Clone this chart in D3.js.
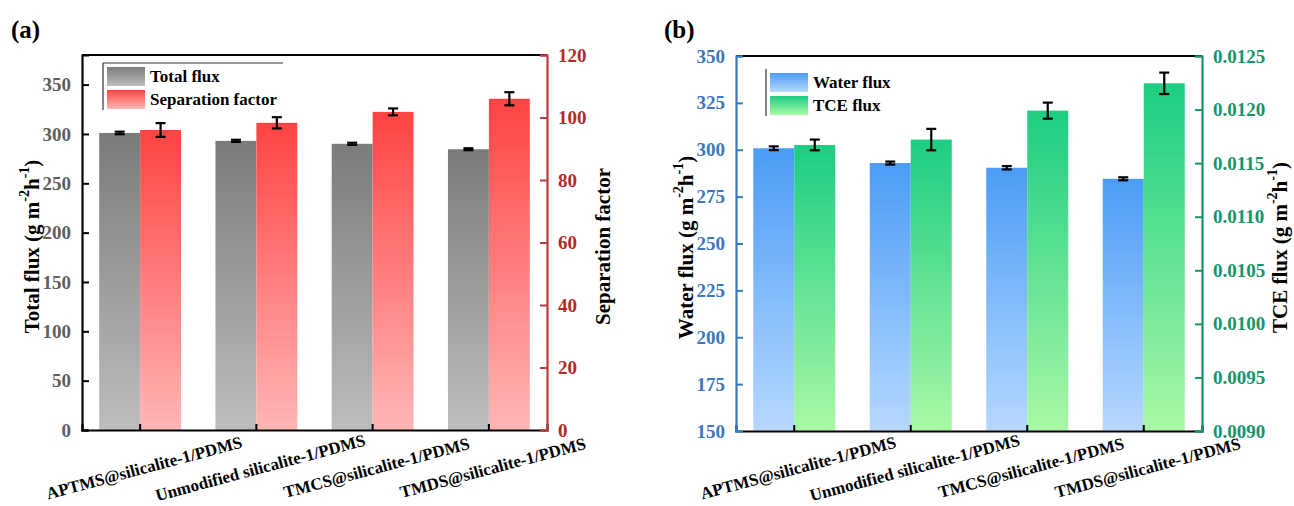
<!DOCTYPE html>
<html>
<head>
<meta charset="utf-8">
<script src="https://cdn.jsdelivr.net/npm/d3@7"></script>
<style>
  html, body { margin: 0; padding: 0; background: #fff; }
  svg { display: block; }
  text { font-family: "Liberation Serif", "Times New Roman", serif; font-weight: bold; }
</style>
</head>
<body>
<svg id="chart" width="1294" height="506"></svg>
<script>
// ---------- data ----------
const categories = [
  "APTMS@silicalite-1/PDMS",
  "Unmodified silicalite-1/PDMS",
  "TMCS@silicalite-1/PDMS",
  "TMDS@silicalite-1/PDMS"
];
const totalFlux = [301, 293, 290, 284.5];
const totalFluxErr = [1.3, 1.1, 1.1, 1.0];
const sepFactor = [96.0, 98.3, 101.8, 106.0];
const sepFactorErr = [2.2, 1.8, 1.1, 2.1];
const waterFlux = [300.8, 292.9, 290.4, 284.5];
const waterFluxErr = [1.0, 0.8, 0.9, 0.8];
const tceFlux = [0.01167, 0.01172, 0.01199, 0.012245];
const tceFluxErr = [0.00005, 0.0001, 0.000075, 0.0001];

const ticksTotal = [0, 50, 100, 150, 200, 250, 300, 350];
const ticksSep = [0, 20, 40, 60, 80, 100, 120];
const ticksWater = [150, 175, 200, 225, 250, 275, 300, 325, 350];
const ticksTce = [0.0090, 0.0095, 0.0100, 0.0105, 0.0110, 0.0115, 0.0120, 0.0125];

const svg = d3.select("#chart");
const defs = svg.append("defs");

function grad(id, top, bottom) {
  const g = defs.append("linearGradient").attr("id", id)
    .attr("x1", 0).attr("y1", 0).attr("x2", 0).attr("y2", 1);
  g.append("stop").attr("offset", "0%").attr("stop-color", top);
  g.append("stop").attr("offset", "100%").attr("stop-color", bottom);
}
grad("gGray", "#7b7b7b", "#bdbdbd");
grad("gRed", "#ff4343", "#ffb6b6");
grad("gBlue", "#4b9cf6", "#b6d8ff");
grad("gGreen", "#1ccd82", "#a9f8a6");

function panel(cfg) {
  const g = svg.append("g");
  const { x0, x1, yTop, yBot } = cfg;
  const x = d3.scaleBand().domain(categories).range([x0, x1]).padding(0);
  const yL = d3.scaleLinear().domain(cfg.leftDomain).range([yBot, yTop]);
  const yR = d3.scaleLinear().domain(cfg.rightDomain).range([yBot, yTop]);
  const bw = x.bandwidth() * 0.352;

  const series = [
    { vals: cfg.leftVals, errs: cfg.leftErr, y: yL, fill: cfg.leftFill, off: -bw },
    { vals: cfg.rightVals, errs: cfg.rightErr, y: yR, fill: cfg.rightFill, off: 0 }
  ];
  series.forEach(s => {
    g.selectAll(null).data(categories).enter().append("rect")
      .attr("x", d => x(d) + x.bandwidth() / 2 + s.off)
      .attr("width", bw)
      .attr("y", (d, i) => s.y(s.vals[i]))
      .attr("height", (d, i) => yBot - s.y(s.vals[i]))
      .attr("fill", `url(#${s.fill})`);
  });
  // error bars
  series.forEach(s => {
    categories.forEach((c, i) => {
      const cx = x(c) + x.bandwidth() / 2 + s.off + bw / 2;
      const yt = s.y(s.vals[i] + s.errs[i]);
      const yb = s.y(s.vals[i] - s.errs[i]);
      const eg = g.append("g").attr("stroke", "#000").attr("stroke-width", 2.2);
      eg.append("line").attr("x1", cx).attr("x2", cx).attr("y1", yt).attr("y2", yb);
      eg.append("line").attr("x1", cx - 5).attr("x2", cx + 5).attr("y1", yt).attr("y2", yt);
      eg.append("line").attr("x1", cx - 5).attr("x2", cx + 5).attr("y1", yb).attr("y2", yb);
    });
  });

  // top frame line
  g.append("line").attr("x1", x0).attr("x2", x1).attr("y1", yTop).attr("y2", yTop)
    .attr("stroke", "#000").attr("stroke-width", 2);

  // bottom axis
  const xb = g.append("g").attr("transform", `translate(0,${yBot})`)
    .call(d3.axisBottom(x).tickSize(-6).tickFormat(""));
  xb.select(".domain").attr("stroke", "#000").attr("stroke-width", 2.2);
  xb.selectAll(".tick line").attr("stroke", "#000").attr("stroke-width", 2);
  categories.forEach(c => {
    g.append("text")
      .attr("transform", `translate(${x(c) + x.bandwidth() / 2 + 4},${cfg.labelY}) rotate(-15)`)
      .attr("text-anchor", "middle").attr("dominant-baseline", "central")
      .attr("font-size", 17).attr("fill", "#000").text(c);
  });

  // left axis
  const al = g.append("g").attr("transform", `translate(${x0},0)`)
    .call(d3.axisLeft(yL).tickValues(cfg.leftTicks).tickSize(-7).tickPadding(11).tickFormat(cfg.leftFmt));
  al.select(".domain").attr("stroke", cfg.leftAxisColor).attr("stroke-width", 2.2);
  al.selectAll(".tick line").attr("stroke", cfg.leftAxisColor).attr("stroke-width", 2);
  al.selectAll(".tick text").attr("fill", cfg.leftTextColor)
    .attr("font-size", 19).style("font-family", '"Liberation Serif", serif').style("font-weight", "bold");

  // right axis
  const ar = g.append("g").attr("transform", `translate(${x1},0)`)
    .call(d3.axisRight(yR).tickValues(cfg.rightTicks).tickSize(-7).tickPadding(11).tickFormat(cfg.rightFmt));
  ar.select(".domain").attr("stroke", cfg.rightAxisColor).attr("stroke-width", 2.2);
  ar.selectAll(".tick line").attr("stroke", cfg.rightAxisColor).attr("stroke-width", 2);
  ar.selectAll(".tick text").attr("fill", cfg.rightTextColor)
    .attr("font-size", 19).style("font-family", '"Liberation Serif", serif').style("font-weight", "bold");

  // axis titles
  function unitTitle(tx, ty, label) {
    const t = g.append("text")
      .attr("transform", `translate(${tx},${ty}) rotate(-90)`)
      .attr("text-anchor", "middle").attr("dominant-baseline", "central")
      .attr("font-size", 21).attr("fill", "#000");
    if (label.units) {
      t.append("tspan").text(label.name + " (g m");
      t.append("tspan").attr("baseline-shift", "super").attr("font-size", 14).text("-2");
      t.append("tspan").text("h");
      t.append("tspan").attr("baseline-shift", "super").attr("font-size", 14).text("-1");
      t.append("tspan").text(")");
    } else {
      t.text(label.name);
    }
  }
  unitTitle(cfg.leftTitleX, (yTop + yBot) / 2 + 4, cfg.leftTitle);
  unitTitle(cfg.rightTitleX, (yTop + yBot) / 2 + 4, cfg.rightTitle);

  // panel label
  g.append("text").attr("x", cfg.labelX).attr("y", 38).attr("font-size", 25)
    .attr("fill", "#000").text(cfg.label);

  // legend
  const lg = cfg.legend;
  if (lg.topLine) {
    g.append("line").attr("x1", lg.x).attr("x2", lg.x + 180).attr("y1", lg.y).attr("y2", lg.y)
      .attr("stroke", "#333").attr("stroke-width", 1.2);
  }
  g.append("line").attr("x1", lg.x).attr("x2", lg.x).attr("y1", lg.y).attr("y2", lg.y + 47)
    .attr("stroke", "#333").attr("stroke-width", 1.2);
  lg.items.forEach((it, i) => {
    g.append("rect").attr("x", lg.x + 4).attr("y", lg.y + 4 + i * 23)
      .attr("width", 38).attr("height", 19).attr("fill", `url(#${it.fill})`);
    g.append("text").attr("x", lg.x + 47).attr("y", lg.y + 19 + i * 23)
      .attr("font-size", 17).attr("fill", "#000").text(it.name);
  });
}

panel({
  x0: 82, x1: 547, yTop: 55, yBot: 430, labelY: 468,
  leftDomain: [0, 380], rightDomain: [0, 120],
  leftVals: totalFlux, leftErr: totalFluxErr, leftFill: "gGray",
  rightVals: sepFactor, rightErr: sepFactorErr, rightFill: "gRed",
  leftTicks: ticksTotal, rightTicks: ticksSep,
  leftFmt: d3.format("d"), rightFmt: d3.format("d"),
  leftAxisColor: "#000", leftTextColor: "#5e5e5e",
  rightAxisColor: "#c0393b", rightTextColor: "#b02a2a",
  leftTitle: { name: "Total flux", units: true }, leftTitleX: 32,
  rightTitle: { name: "Separation factor", units: false }, rightTitleX: 603,
  label: "(a)", labelX: 11,
  legend: { x: 103, y: 63, topLine: true, items: [ { name: "Total flux", fill: "gGray" }, { name: "Separation factor", fill: "gRed" } ] }
});

panel({
  x0: 736, x1: 1202, yTop: 56, yBot: 431, labelY: 468,
  leftDomain: [150, 350], rightDomain: [0.0090, 0.0125],
  leftVals: waterFlux, leftErr: waterFluxErr, leftFill: "gBlue",
  rightVals: tceFlux, rightErr: tceFluxErr, rightFill: "gGreen",
  leftTicks: ticksWater, rightTicks: ticksTce,
  leftFmt: d3.format("d"), rightFmt: d3.format(".4f"),
  leftAxisColor: "#3b78be", leftTextColor: "#3b78be",
  rightAxisColor: "#15956a", rightTextColor: "#15956a",
  leftTitle: { name: "Water flux", units: true }, leftTitleX: 686,
  rightTitle: { name: "TCE flux", units: true }, rightTitleX: 1280,
  label: "(b)", labelX: 664,
  legend: { x: 766, y: 69, topLine: false, items: [ { name: "Water flux", fill: "gBlue" }, { name: "TCE flux", fill: "gGreen" } ] }
});
</script>
</body>
</html>
